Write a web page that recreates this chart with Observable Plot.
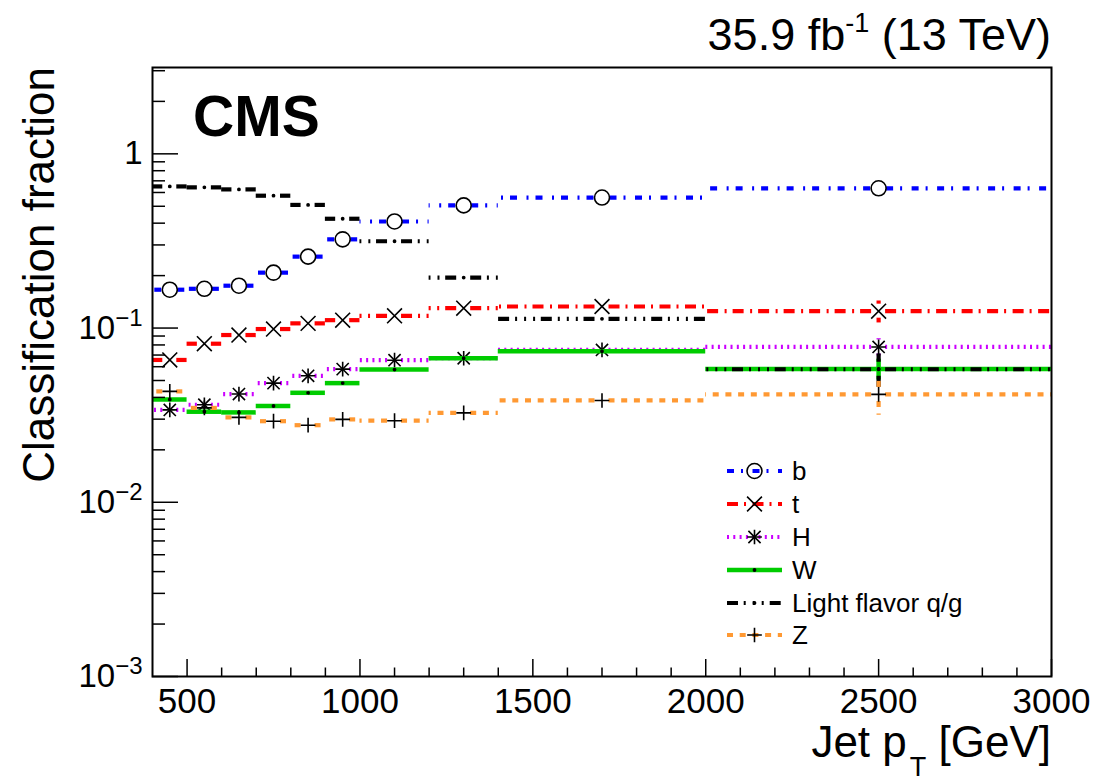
<!DOCTYPE html>
<html>
<head>
<meta charset="utf-8">
<script src="https://cdn.jsdelivr.net/npm/d3@7"></script>
<script src="https://cdn.jsdelivr.net/npm/@observablehq/plot@0.6"></script>
<style>
  html, body { margin: 0; padding: 0; background: #ffffff; }
  #chart svg { display: block; }
</style>
</head>
<body>
<div id="chart"></div>
<script>
// ---------------- data ----------------
const binLo     = [400, 500, 600, 700, 800, 900, 1000, 1200, 1400, 2000];
const binHi     = [500, 600, 700, 800, 900, 1000, 1200, 1400, 2000, 3000];
const binCenter = [450, 550, 650, 750, 850, 950, 1100, 1300, 1700, 2500];

const seriesNames = ["b", "t", "H", "W", "Light flavor q/g", "Z"];

const bValues  = [0.166, 0.168, 0.175, 0.208, 0.257, 0.323, 0.409, 0.506, 0.561, 0.634];
const tValues  = [0.0656, 0.0813, 0.0912, 0.0987, 0.1064, 0.111, 0.1175, 0.130, 0.133, 0.125];
const hValues  = [0.0339, 0.0363, 0.0418, 0.0483, 0.0532, 0.0581, 0.0654, 0.0671, 0.0749, 0.0779];
const wValues  = [0.0389, 0.0331, 0.0328, 0.0357, 0.0425, 0.0483, 0.0578, 0.0671, 0.0736, 0.0583];
const lfValues = [0.650, 0.642, 0.625, 0.575, 0.509, 0.424, 0.315, 0.195, 0.113, 0.058];
const zValues  = [0.0433, 0.0348, 0.0307, 0.0292, 0.0277, 0.0299, 0.0294, 0.0326, 0.0384, 0.0416];

const bErrors  = [0, 0, 0, 0, 0, 0, 0, 0, 0, 0];
const tErrors  = [0, 0, 0, 0, 0, 0, 0, 0, 0, 0.018];
const hErrors  = [0, 0, 0, 0, 0, 0, 0, 0, 0, 0.009];
const wErrors  = [0, 0, 0, 0, 0, 0, 0, 0, 0, 0.008];
const lfErrors = [0, 0, 0, 0, 0, 0, 0, 0, 0, 0.013];
const zErrors  = [0, 0, 0, 0, 0, 0, 0, 0, 0, 0.010];

const xTickValues = [500, 1000, 1500, 2000, 2500, 3000];
const xTickLabels = ["500", "1000", "1500", "2000", "2500", "3000"];
const yTickValues = [0.001, 0.01, 0.1, 1];
const yTickLabels = ["10^-3", "10^-2", "10^-1", "1"];

const xTitle = "Jet p";
const xTitleSub = "T";
const xTitleEnd = " [GeV]";
const yTitle = "Classification fraction";
const cmsText = "CMS";
const lumiMain = "35.9 fb";
const lumiSup = "-1";
const lumiEnd = " (13 TeV)";

// ---------------- styles ----------------
const FONT = "'Liberation Sans', Arial, Helvetica, sans-serif";
const seriesValues = [bValues, tValues, hValues, wValues, lfValues, zValues];
const seriesErrors = [bErrors, tErrors, hErrors, wErrors, lfErrors, zErrors];
const seriesStyle = [
  {color: "#0000ff", dash: "7,7,2,9.5", width: 4.2, gap: 8, markers: [{symbol: "circle", r: 7.5, fill: "none"}]},
  {color: "#ff0000", dash: "11,6,2,6.5", width: 4.2, gap: 7, markers: [{symbol: "times", r: 6.8, fill: "none"}]},
  {color: "#cc00ff", dash: "2,4.3", width: 4.2, gap: 7, markers: [{symbol: "plus", r: 4.8, fill: "none"}, {symbol: "times", r: 5.6, fill: "none"}]},
  {color: "#00cc00", dash: null, width: 4.5, gap: 0, markers: [{symbol: "circle", r: 1.1, fill: "black"}]},
  {color: "#000000", dash: "11,5.7,2,7,2,7,2,6", width: 4.2, gap: 7, markers: [{symbol: "circle", r: 1.1, fill: "black"}]},
  {color: "#ff9933", dash: "6,6.7", width: 4.2, gap: 7, markers: [{symbol: "plus", r: 4.8, fill: "none"}]}
];

const W = 1101, H = 783;
const mL = 152, mR = 50, mT = 67, mB = 107;
const innerW = W - mL - mR, innerH = H - mT - mB;

const xMinor = d3.range(500, 3000, 100).filter(v => v % 500 !== 0);
const yMinor = [];
for (let e = -3; e <= 0; e++) for (let k = 2; k <= 9; k++) { const v = k * Math.pow(10, e); if (v < 3.13) yMinor.push(v); }

// ---------------- marks ----------------
const marks = [];
seriesValues.forEach((vals, k) => {
  const st = seriesStyle[k];
  const line = {stroke: st.color, strokeWidth: st.width, strokeDasharray: st.dash || undefined, strokeLinecap: "butt"};
  const pts = vals.map((v, i) => ({c: binCenter[i], lo: binLo[i], hi: binHi[i], v, e: seriesErrors[k][i]}));
  // horizontal bars drawn from the marker outwards
  marks.push(Plot.ruleY(pts, {y: "v", x1: "c", x2: "lo", insetLeft: -st.gap, ...line}));
  marks.push(Plot.ruleY(pts, {y: "v", x1: "c", x2: "hi", insetLeft: st.gap, ...line}));
  // vertical error bars
  const ep = pts.filter(d => d.e > 0);
  marks.push(Plot.ruleX(ep, {x: "c", y1: "v", y2: d => d.v + d.e, insetTop: -st.gap, ...line}));
  marks.push(Plot.ruleX(ep, {x: "c", y1: "v", y2: d => d.v - d.e, insetTop: st.gap, ...line}));
  // markers
  st.markers.forEach(m => {
    marks.push(Plot.dot(pts, {x: "c", y: "v", symbol: m.symbol, r: m.r, fill: m.fill, stroke: "black", strokeWidth: 1.6}));
  });
});

// inward ticks
marks.push(Plot.ruleX(xTickValues, {x: d => d, insetTop: innerH - 17, stroke: "black", strokeWidth: 1.5}));
marks.push(Plot.ruleX(xMinor, {x: d => d, insetTop: innerH - 8.5, stroke: "black", strokeWidth: 1.5}));
marks.push(Plot.ruleY(yTickValues, {y: d => d, insetRight: innerW - 26, stroke: "black", strokeWidth: 1.5}));
marks.push(Plot.ruleY(yMinor, {y: d => d, insetRight: innerW - 13, stroke: "black", strokeWidth: 1.5}));
marks.push(Plot.frame({stroke: "black", strokeWidth: 2}));

const chart = Plot.plot({
  width: W, height: H,
  marginLeft: mL, marginRight: mR, marginTop: mT, marginBottom: mB,
  style: {fontFamily: FONT, fontSize: "35px", background: "#ffffff", color: "black"},
  x: {domain: [400, 3000], ticks: xTickValues, tickSize: 0, tickPadding: 12,
      tickFormat: d => xTickLabels[xTickValues.indexOf(d)], label: null},
  y: {type: "log", domain: [0.001, 3.13], ticks: yTickValues, tickSize: 0, tickPadding: 10,
      tickFormat: d => yTickLabels[yTickValues.findIndex(v => Math.abs(v - d) < 1e-12)], label: null},
  marks
});
document.getElementById("chart").appendChild(chart);

// ---------------- post-processing: tick labels, titles, legend ----------------
const svg = d3.select(chart.tagName.toLowerCase() === "svg" ? chart : chart.querySelector("svg"));
const NS = "http://www.w3.org/2000/svg";

svg.selectAll("text").each(function () {
  const t = this.textContent;
  if (t === "1") { this.setAttribute("font-size", "33px"); }
  const m = /^10\^(-?\d+)$/.exec(t);
  if (m) {
    this.textContent = "";
    this.setAttribute("font-size", "33px");
    const a = document.createElementNS(NS, "tspan"); a.textContent = "10"; this.appendChild(a);
    const b = document.createElementNS(NS, "tspan");
    b.textContent = m[1].replace("-", "\u2212");
    b.setAttribute("font-size", "24px");
    b.setAttribute("dy", "-13");
    this.appendChild(b);
  }
});

// lumi text
const lumi = svg.append("text").attr("x", 1051).attr("y", 50).attr("text-anchor", "end")
  .attr("font-family", FONT).attr("font-size", "45px").attr("fill", "black");
lumi.append("tspan").text(lumiMain);
lumi.append("tspan").text(lumiSup).attr("font-size", "27px").attr("dy", -18);
lumi.append("tspan").text(lumiEnd).attr("dy", 18);

// CMS
svg.append("text").attr("x", 193).attr("y", 136).attr("text-anchor", "start")
  .attr("font-family", FONT).attr("font-weight", "bold")
  .attr("font-size", "57px").attr("fill", "black").text(cmsText);

// x title
const xt = svg.append("text").attr("x", 1051).attr("y", 757).attr("text-anchor", "end")
  .attr("font-family", FONT).attr("font-size", "44px").attr("fill", "black");
xt.append("tspan").text(xTitle);
xt.append("tspan").text(xTitleSub).attr("font-size", "27px").attr("dx", 3).attr("dy", 19);
xt.append("tspan").text(xTitleEnd).attr("dy", -19);

// y title
svg.append("text").attr("transform", "translate(54,67) rotate(-90)").attr("text-anchor", "end")
  .attr("font-family", FONT).attr("font-size", "44px").attr("fill", "black").text(yTitle);

// legend
const legendRowY = [471, 504, 537, 570, 603, 635];
const lg = svg.append("g");
seriesNames.forEach((name, k) => {
  const st = seriesStyle[k];
  const y = legendRowY[k];
  lg.append("line").attr("x1", 727).attr("x2", 782).attr("y1", y).attr("y2", y)
    .attr("stroke", st.color).attr("stroke-width", st.width)
    .attr("stroke-dasharray", st.dash || null);
  st.markers.forEach(m => {
    const sym = {circle: d3.symbolCircle, times: d3.symbolTimes, plus: d3.symbolPlus}[m.symbol];
    lg.append("path").attr("d", d3.symbol(sym, Math.PI * m.r * m.r)())
      .attr("transform", `translate(754.5,${y})`)
      .attr("fill", m.fill).attr("stroke", "black").attr("stroke-width", 1.6);
  });
  lg.append("text").attr("x", 792).attr("y", y).attr("dy", "0.36em").attr("text-anchor", "start")
    .attr("font-family", FONT).attr("font-size", "26px").attr("fill", "black").text(name);
});
</script>
</body>
</html>
